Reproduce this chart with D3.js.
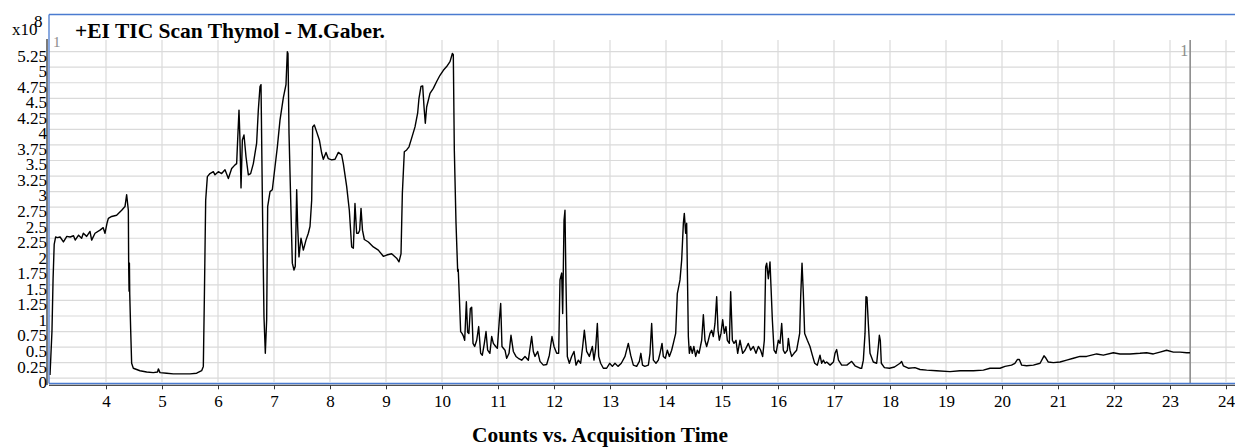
<!DOCTYPE html>
<html>
<head>
<meta charset="utf-8">
<script src="https://cdn.jsdelivr.net/npm/d3@7"></script>
<style>
  html, body { margin: 0; padding: 0; background: #fff; }
  svg { display: block; }
  text { font-family: "Liberation Serif", "Times New Roman", serif; }
</style>
</head>
<body>
<svg id="chart" width="1235" height="447"></svg>
<script>
// ---------- DATA (counts in units of 1e8, time in minutes) ----------
const titleText = "+EI TIC Scan Thymol - M.Gaber.";
const xAxisTitle = "Counts vs. Acquisition Time";
const yScaleLabel = "x10";
const yScaleExp = "8";
const xTickValues = [4,5,6,7,8,9,10,11,12,13,14,15,16,17,18,19,20,21,22,23,24];
const yTickValues = [0,0.25,0.5,0.75,1,1.25,1.5,1.75,2,2.25,2.5,2.75,3,3.25,3.5,3.75,4,4.25,4.5,4.75,5,5.25];
const yTickLabels = ["0","0.25","0.5","0.75","1","1.25","1.5","1.75","2","2.25","2.5","2.75","3","3.25","3.5","3.75","4","4.25","4.5","4.75","5","5.25"];
const markerTime = 23.36;
const markerLabel = "1";

const times = [
3.000,3.015,3.035,3.055,3.075,3.10,3.13,3.18,3.24,3.30,3.36,3.42,3.45,3.51,3.565,3.595,3.655,3.714,3.744,3.804,3.893,3.95,3.982,4.02,4.042,4.101,4.19,4.28,4.339,4.369,4.399,4.405,4.412,4.418,4.424,4.44,4.458,4.488,4.607,4.726,4.845,4.92,4.935,4.964,5.083,5.202,5.321,5.50,5.619,5.708,5.738,5.756,5.780,5.810,5.857,5.917,5.946,6.006,6.065,6.125,6.185,6.244,6.304,6.333,6.351,6.375,6.39,6.411,6.435,6.464,6.50,6.542,6.583,6.631,6.69,6.72,6.75,6.768,6.792,6.821,6.845,6.869,6.887,6.929,6.970,7.018,7.060,7.107,7.167,7.214,7.238,7.25,7.268,7.298,7.327,7.357,7.38,7.405,7.423,7.446,7.482,7.524,7.571,7.613,7.643,7.673,7.690,7.720,7.762,7.810,7.851,7.881,7.929,7.970,8.030,8.09,8.149,8.208,8.238,8.298,8.345,8.387,8.417,8.446,8.476,8.506,8.530,8.554,8.580,8.613,8.685,8.774,8.863,8.952,9.012,9.101,9.190,9.232,9.268,9.292,9.327,9.369,9.411,9.458,9.518,9.565,9.589,9.625,9.655,9.679,9.702,9.726,9.786,9.845,9.905,9.964,10.024,10.083,10.143,10.185,10.202,10.220,10.25,10.28,10.29,10.31,10.333,10.357,10.38,10.405,10.435,10.458,10.48,10.506,10.53,10.554,10.583,10.62,10.655,10.690,10.72,10.756,10.786,10.815,10.855,10.887,10.917,10.958,10.988,11.024,11.048,11.071,11.125,11.155,11.197,11.232,11.274,11.321,11.363,11.423,11.482,11.542,11.601,11.631,11.661,11.708,11.750,11.810,11.869,11.917,11.964,12.000,12.048,12.083,12.107,12.137,12.155,12.179,12.196,12.214,12.238,12.274,12.315,12.357,12.393,12.435,12.476,12.512,12.542,12.583,12.631,12.685,12.714,12.744,12.774,12.798,12.833,12.881,12.94,12.994,13.042,13.089,13.143,13.202,13.268,13.327,13.369,13.417,13.476,13.524,13.551,13.581,13.622,13.685,13.714,13.744,13.774,13.821,13.863,13.893,13.929,13.952,13.988,14.024,14.060,14.101,14.131,14.173,14.202,14.226,14.250,14.280,14.310,14.327,14.351,14.369,14.399,14.417,14.440,14.470,14.497,14.530,14.560,14.59,14.637,14.667,14.696,14.726,14.756,14.786,14.815,14.845,14.875,14.905,14.929,14.952,14.982,15.012,15.042,15.071,15.095,15.131,15.155,15.185,15.214,15.250,15.280,15.321,15.369,15.411,15.470,15.512,15.56,15.607,15.649,15.690,15.726,15.756,15.780,15.798,15.827,15.857,15.875,15.899,15.929,15.964,16.006,16.036,16.066,16.095,16.125,16.167,16.185,16.214,16.244,16.286,16.333,16.387,16.405,16.429,16.452,16.476,16.524,16.571,16.613,16.655,16.702,16.750,16.78,16.81,16.84,16.87,16.93,16.99,17.018,17.048,17.08,17.137,17.23,17.30,17.315,17.375,17.464,17.494,17.524,17.554,17.571,17.589,17.613,17.643,17.702,17.762,17.792,17.810,17.827,17.845,17.90,17.99,18.08,18.179,18.208,18.238,18.327,18.446,18.536,18.655,18.83,19.071,19.25,19.49,19.667,19.786,19.964,20.054,20.17,20.23,20.274,20.310,20.351,20.44,20.56,20.68,20.750,20.786,20.827,20.917,21.036,21.155,21.274,21.393,21.51,21.690,21.81,21.988,22.107,22.286,22.464,22.583,22.702,22.821,22.940,23.060,23.179,23.298,23.357
];
const counts = [
0.05,0.35,0.75,1.6,2.15,2.27,2.26,2.27,2.19,2.28,2.27,2.29,2.22,2.30,2.25,2.33,2.28,2.36,2.22,2.33,2.38,2.42,2.33,2.50,2.57,2.60,2.62,2.70,2.76,2.95,2.70,1.80,1.40,1.85,1.35,0.80,0.24,0.16,0.12,0.10,0.09,0.10,0.15,0.09,0.08,0.07,0.07,0.07,0.08,0.12,0.19,1.26,2.86,3.24,3.29,3.32,3.27,3.32,3.29,3.35,3.21,3.37,3.43,3.45,3.83,4.31,3.90,3.06,3.83,3.91,3.56,3.27,3.29,3.45,3.78,4.31,4.69,4.72,2.90,0.99,0.40,0.94,2.76,3.00,3.03,3.40,3.72,4.15,4.51,4.72,5.25,5.22,3.94,2.87,1.85,1.74,1.80,3.03,2.44,1.95,2.25,2.06,2.22,2.33,2.44,2.86,4.04,4.07,3.96,3.83,3.62,3.52,3.63,3.53,3.51,3.52,3.63,3.59,3.45,3.08,2.70,2.11,2.09,2.81,2.33,2.33,2.38,2.73,2.38,2.23,2.19,2.11,2.06,1.96,1.98,2.00,1.93,1.87,2.00,2.97,3.64,3.67,3.72,3.86,4.04,4.26,4.50,4.69,4.70,4.36,4.10,4.36,4.58,4.66,4.77,4.87,4.95,5.01,5.09,5.22,5.20,3.67,2.50,1.72,1.75,1.30,0.75,0.72,0.68,0.61,1.23,0.74,0.72,1.12,1.14,0.56,0.51,0.61,0.83,0.40,0.37,0.56,0.75,0.45,0.40,0.67,0.56,0.51,0.48,0.94,1.20,0.51,0.45,0.32,0.40,0.69,0.43,0.35,0.32,0.29,0.35,0.29,0.67,0.43,0.35,0.43,0.27,0.21,0.22,0.37,0.67,0.51,0.40,0.40,1.58,1.69,1.04,2.54,2.70,1.53,0.35,0.24,0.35,0.43,0.21,0.29,0.24,0.51,0.77,0.43,0.35,0.51,0.29,0.48,0.88,0.35,0.24,0.16,0.16,0.24,0.19,0.24,0.19,0.24,0.35,0.56,0.37,0.21,0.19,0.27,0.40,0.21,0.19,0.21,0.40,0.88,0.29,0.24,0.29,0.40,0.56,0.35,0.32,0.45,0.35,0.45,0.56,0.72,1.36,1.47,1.58,1.90,2.49,2.65,2.33,2.49,0.67,0.40,0.51,0.40,0.51,0.35,0.45,0.40,0.61,1.02,0.61,0.51,0.61,0.72,0.77,0.67,0.88,1.31,0.77,0.61,0.72,0.94,0.72,0.83,0.61,0.56,1.39,0.61,0.56,0.61,0.40,0.61,0.40,0.45,0.56,0.45,0.51,0.40,0.51,0.45,0.35,0.61,1.79,1.85,1.60,1.87,1.47,0.94,0.45,0.40,0.61,0.56,0.88,0.45,0.40,0.45,0.64,0.45,0.35,0.40,0.45,0.72,1.31,1.85,1.37,0.72,0.61,0.51,0.37,0.24,0.21,0.37,0.24,0.29,0.24,0.26,0.21,0.26,0.40,0.46,0.29,0.21,0.21,0.26,0.27,0.20,0.16,0.16,0.29,0.72,1.31,1.30,0.88,0.40,0.26,0.24,0.51,0.69,0.61,0.24,0.17,0.16,0.18,0.24,0.27,0.20,0.16,0.17,0.14,0.13,0.12,0.105,0.12,0.12,0.13,0.16,0.16,0.19,0.21,0.24,0.30,0.30,0.21,0.20,0.21,0.24,0.36,0.32,0.26,0.25,0.26,0.29,0.32,0.35,0.35,0.39,0.37,0.41,0.39,0.39,0.40,0.41,0.39,0.42,0.45,0.42,0.42,0.41,0.41
];

// ---------- LAYOUT ----------
const W = 1235, H = 447;
const frameLeft = 49, frameTop = 14.5, plotTop = 40, axisY = 383.5;
const svg = d3.select("#chart");

const x = d3.scaleLinear().domain([4, 24]).range([106, 1226]);
const y = d3.scaleLinear().domain([0, 5.25]).range([378.2, 51.65]);

// grid
const grid = svg.append("g");
grid.selectAll("line.v").data(xTickValues).enter().append("line")
  .attr("x1", d => x(d)).attr("x2", d => x(d))
  .attr("y1", plotTop).attr("y2", 382)
  .attr("stroke", "#dadada").attr("stroke-width", 1.2);
grid.selectAll("line.h").data(yTickValues).enter().append("line")
  .attr("x1", frameLeft).attr("x2", W)
  .attr("y1", d => y(d)).attr("y2", d => y(d))
  .attr("stroke", "#dadada").attr("stroke-width", 1.2);

// marker line
svg.append("line")
  .attr("x1", x(markerTime)).attr("x2", x(markerTime))
  .attr("y1", plotTop).attr("y2", axisY)
  .attr("stroke", "#8c8c8c").attr("stroke-width", 1.6);
svg.append("text").text(markerLabel)
  .attr("x", x(markerTime) - 2).attr("y", 56)
  .attr("text-anchor", "end")
  .attr("fill", "#8c8c8c").style("font-size", "16px");

// trace
const pts = times.map((t, i) => [t, counts[i]]);
const line = d3.line().x(d => x(d[0])).y(d => y(d[1]));
svg.append("path").datum(pts)
  .attr("d", line).attr("fill", "none")
  .attr("stroke", "#000").attr("stroke-width", 1.4)
  .attr("stroke-linejoin", "round");

// frame lines
svg.append("line").attr("x1", frameLeft).attr("x2", W).attr("y1", frameTop).attr("y2", frameTop)
  .attr("stroke", "#4a7bd0").attr("stroke-width", 1.3);
svg.append("line").attr("x1", frameLeft).attr("x2", frameLeft).attr("y1", frameTop).attr("y2", axisY)
  .attr("stroke", "#4a7bd0").attr("stroke-width", 1.3);
svg.append("line").attr("x1", frameLeft).attr("x2", W).attr("y1", axisY).attr("y2", axisY)
  .attr("stroke", "#4a7bd0").attr("stroke-width", 1.3);
svg.append("line").attr("x1", frameLeft).attr("x2", W).attr("y1", 385.3).attr("y2", 385.3)
  .attr("stroke", "#222").attr("stroke-width", 1);
svg.append("line").attr("x1", 47).attr("x2", 47).attr("y1", 39).attr("y2", 385)
  .attr("stroke", "#222").attr("stroke-width", 1.2);

// x axis
const xAxis = d3.axisBottom(x).tickValues(xTickValues).tickFormat(d3.format("d"))
  .tickSize(4).tickSizeOuter(0).tickPadding(6);
const gx = svg.append("g").attr("transform", "translate(0,385.3)").call(xAxis);
gx.select(".domain").remove();
gx.selectAll(".tick line").attr("stroke", "#333");
gx.selectAll("text").style("font-size", "17px").style("font-family", "'Liberation Serif', serif").attr("fill", "#000");

// y axis labels
const yAxis = d3.axisLeft(y).tickValues(yTickValues)
  .tickFormat((d, i) => yTickLabels[i]).tickSize(0).tickPadding(0);
const gy = svg.append("g").attr("transform", "translate(47,0)").call(yAxis);
gy.select(".domain").remove();
gy.selectAll("text").style("font-size", "17px").style("font-family", "'Liberation Serif', serif")
  .attr("fill", "#000").attr("dy", "0.55em").attr("x", 0);

// exponent
svg.append("text").text(yScaleLabel).attr("x", 12).attr("y", 35).style("font-size", "17px");
svg.append("text").text(yScaleExp).attr("x", 34).attr("y", 26.5).style("font-size", "17px");

// top-left "1"
svg.append("text").text("1").attr("x", 53).attr("y", 47).attr("fill", "#8c8c8c").style("font-size", "15px");

// title
const title = svg.append("text").text(titleText)
  .attr("x", 75).attr("y", 38.3)
  .style("font-weight", "bold").style("font-size", "18px");
const tw = title.node().getComputedTextLength();
title.style("font-size", (18 * 310 / tw) + "px");

// x axis title
const xt = svg.append("text").text(xAxisTitle)
  .attr("x", 600).attr("y", 442).attr("text-anchor", "middle")
  .style("font-weight", "bold").style("font-size", "18px");
const xw = xt.node().getComputedTextLength();
xt.style("font-size", (18 * 256 / xw) + "px");
</script>
</body>
</html>
